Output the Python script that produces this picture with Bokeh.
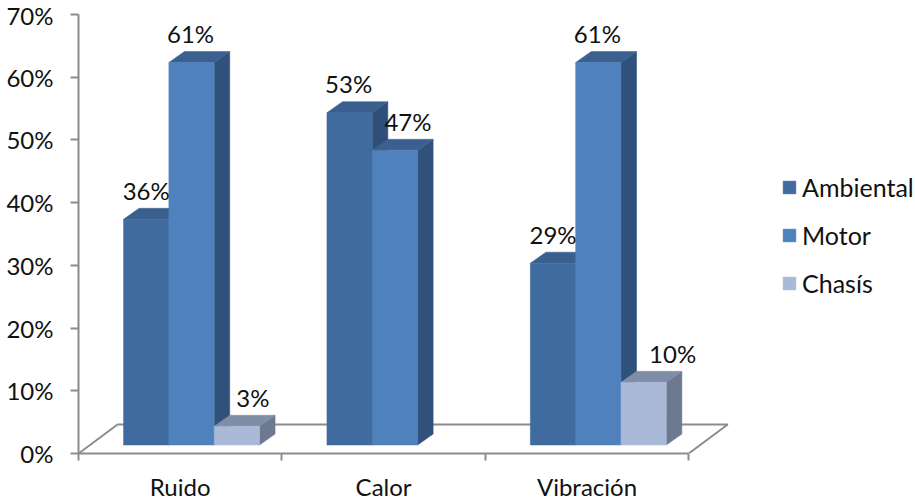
from bokeh.core.properties import value
from bokeh.embed import file_html
from bokeh.models import ColumnDataSource, FixedTicker, Legend, LegendItem, PrintfTickFormatter, Range1d
from bokeh.plotting import figure
from bokeh.resources import INLINE

# Survey results per failure source and location
categories = ["Ruido", "Calor", "Vibración"]
series_names = ["Ambiental", "Motor", "Chasís"]
ambiental = [36, 53, 29]
motor = [61, 47, 61]
chasis = [3, 0, 10]
y_ticks = [0, 10, 20, 30, 40, 50, 60, 70]

# Face colours of each series: front, top, side
front_colors = ["#3F6B9F", "#4F81BD", "#A9B9D7"]
top_colors = ["#395F8E", "#3B6090", "#7F8DA7"]
side_colors = ["#2F4F78", "#30527A", "#6C798E"]

FONT = "Lato"
AXIS_GREY = "#8C8C8C"
BAR_W = 0.2228          # bar width, in category units
PAD = 0.2215            # space before a group's first bar
DEPTH_X = 0.0765        # extrusion to the back right
DEPTH_Y = 1.75
BASE = 1.35             # height of the bars' front edge above the axis
FLOOR_X = 0.192
FLOOR_Y = 4.62
FLOOR_END = 3.0
PX_X = 203.4            # pixels per category

p = figure(
    width=915, height=500, frame_width=837, frame_height=439,
    output_backend="svg", toolbar_location=None,
    x_range=Range1d(0, 837 / PX_X), y_range=Range1d(0, 70),
    min_border_left=78, min_border_right=0, min_border_top=14, min_border_bottom=0,
    outline_line_color=None, background_fill_color="white", border_fill_color="white",
)
p.grid.visible = False

# Floor of the 3D scene, behind the bars
p.line([0, FLOOR_X, FLOOR_END + FLOOR_X, FLOOR_END], [0, FLOOR_Y, FLOOR_Y, 0],
       line_color=AXIS_GREY, line_width=2)

all_values = [ambiental, motor, chasis]
front_renderers = []
for s, vals in enumerate(all_values):
    left = [g + PAD + s * BAR_W for g in range(len(categories))]
    keep = [i for i, v in enumerate(vals) if v > 0]
    xl = [left[i] for i in keep]
    xr = [x + BAR_W for x in xl]
    tops = [BASE + vals[i] for i in keep]
    base = [BASE] * len(keep)
    # side face first, then the top, then the front
    p.patches(
        [[r, r + DEPTH_X, r + DEPTH_X, r] for r in xr],
        [[BASE, BASE + DEPTH_Y, t + DEPTH_Y, t] for t in tops],
        fill_color=side_colors[s], line_color=side_colors[s], line_width=0.5,
    )
    p.patches(
        [[a, a + DEPTH_X, b + DEPTH_X, b] for a, b in zip(xl, xr)],
        [[t, t + DEPTH_Y, t + DEPTH_Y, t] for t in tops],
        fill_color=top_colors[s], line_color=top_colors[s], line_width=0.5,
    )
    r = p.quad(left=xl, right=xr, bottom=base, top=tops,
               fill_color=front_colors[s], line_color=front_colors[s], line_width=0.5)
    front_renderers.append(r)

# Value labels, pushed sideways where a neighbouring bar would cover them
nudges = [[0, -1, 16], [-1, 13, 0], [0, -1, 29]]
lx, ly, lt, ldx = [], [], [], []
for s, vals in enumerate(all_values):
    for g, v in enumerate(vals):
        if v > 0:
            lx.append(g + PAD + (s + 0.5) * BAR_W)
            ly.append(BASE + v)
            lt.append(f"{v}%")
            ldx.append(nudges[g][s])
p.text(
    x="x", y="y", text="t", x_offset="dx", y_offset=-29,
    source=ColumnDataSource(dict(x=lx, y=ly, t=lt, dx=ldx)),
    text_font=value(FONT), text_font_size="24px", text_color="#111111",
    text_align="center", text_baseline="middle",
)

# Axes
yax = p.yaxis[0]
yax.ticker = FixedTicker(ticks=y_ticks)
yax.formatter = PrintfTickFormatter(format="%d%%")
yax.axis_line_color = AXIS_GREY
yax.axis_line_width = 2
yax.major_tick_line_color = AXIS_GREY
yax.major_tick_line_width = 2
yax.major_tick_in = 0
yax.major_tick_out = 8
yax.minor_tick_line_color = None
yax.major_label_standoff = 17
yax.major_label_text_font = FONT
yax.major_label_text_font_size = "24px"
yax.major_label_text_color = "#111111"

xax = p.xaxis[0]
xax.ticker = FixedTicker(ticks=[i + 0.5 for i in range(len(categories))],
                         minor_ticks=list(range(len(categories) + 1)))
xax.major_label_overrides = {i + 0.5: c for i, c in enumerate(categories)}
xax.bounds = (0, len(categories))
xax.axis_line_color = AXIS_GREY
xax.axis_line_width = 2
xax.major_tick_line_color = None
xax.major_tick_in = 0
xax.major_tick_out = 0
xax.minor_tick_line_color = AXIS_GREY
xax.minor_tick_line_width = 2
xax.minor_tick_in = 0
xax.minor_tick_out = 7
xax.major_label_standoff = 11
xax.major_label_text_font = FONT
xax.major_label_text_font_size = "24px"
xax.major_label_text_color = "#111111"

legend = Legend(
    items=[LegendItem(label=n, renderers=[r]) for n, r in zip(series_names, front_renderers)],
    location=(703, 155), orientation="vertical",
    glyph_width=16, glyph_height=16, label_standoff=5, spacing=18,
    padding=4, margin=0, border_line_color=None, background_fill_alpha=0,
    label_text_font=FONT, label_text_font_size="25px", label_text_color="#111111",
)
p.add_layout(legend, "center")

open("out.html", "w").write(file_html(p, INLINE))
